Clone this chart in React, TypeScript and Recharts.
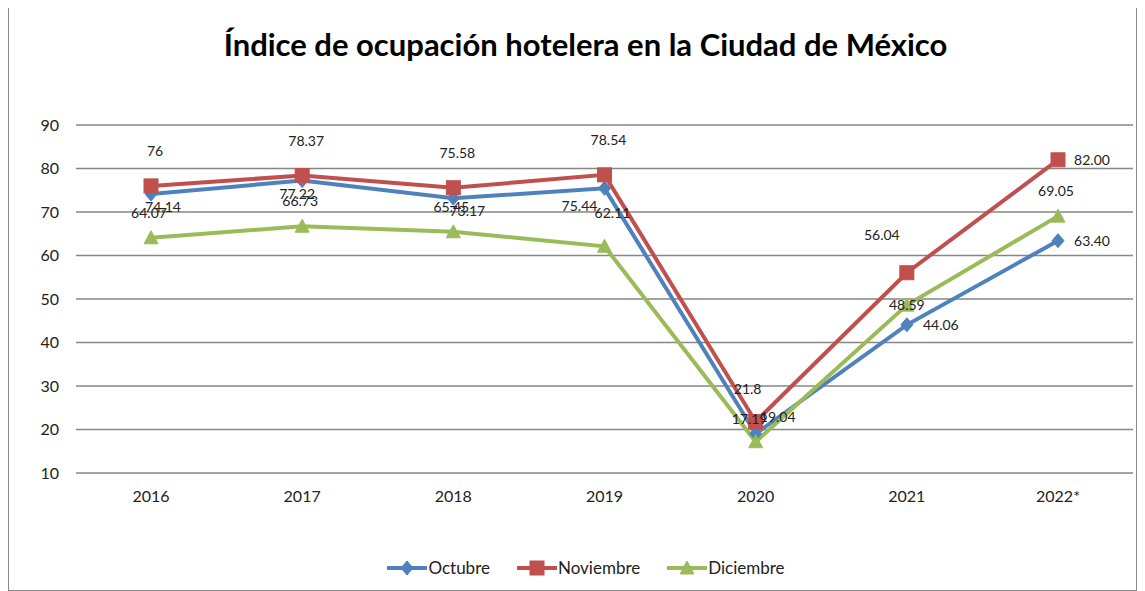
import { LineChart, Line, XAxis, YAxis, CartesianGrid } from 'recharts';

const years = ['2016', '2017', '2018', '2019', '2020', '2021', '2022*'];
const octubre = [74.14, 77.22, 73.17, 75.44, 19.04, 44.06, 63.4];
const noviembre = [76, 78.37, 75.58, 78.54, 21.8, 56.04, 82.0];
const diciembre = [64.07, 66.73, 65.45, 62.11, 17.19, 48.59, 69.05];
const octubreLabels = ['74.14', '77.22', '73.17', '75.44', '19.04', '44.06', '63.40'];
const noviembreLabels = ['76', '78.37', '75.58', '78.54', '21.8', '56.04', '82.00'];
const diciembreLabels = ['64.07', '66.73', '65.45', '62.11', '17.19', '48.59', '69.05'];
const yTicks = [10, 20, 30, 40, 50, 60, 70, 80, 90];

const data = years.map((year, i) => ({
  year,
  Octubre: octubre[i],
  Noviembre: noviembre[i],
  Diciembre: diciembre[i],
}));

const BLUE = '#4F81BD';
const RED = '#C0504D';
const GREEN = '#9BBB59';
const FONT = 'Lato, "Liberation Sans", sans-serif';

function Marker({ cx, cy, shape, color }: any) {
  if (cx == null || cy == null) return null;
  if (shape === 'diamond') {
    return <path d={`M${cx},${cy - 7} L${cx + 6},${cy} L${cx},${cy + 7} L${cx - 6},${cy} Z`} fill={color} stroke={color} />;
  }
  if (shape === 'square') {
    return <rect x={cx - 7} y={cy - 7} width={14} height={14} fill={color} stroke={color} />;
  }
  return <path d={`M${cx},${cy - 7} L${cx + 7},${cy + 6} L${cx - 7},${cy + 6} Z`} fill={color} stroke={color} />;
}

// label offsets roughly following where Excel put them
function makeLabel(texts: string[], place: (i: number) => [number, number]) {
  return (props: any) => {
    const { x, y, index } = props;
    const [dx, dy] = place(index);
    return (
      <text key={`l${index}`} x={x + dx} y={y + dy} textAnchor="middle" fontSize={14} fontFamily={FONT} fill="#222">
        {texts[index]}
      </text>
    );
  };
}

const octLabel = makeLabel(octubreLabels, (i) => {
  if (i === 5 || i === 6) return [34, 5];
  if (i === 3) return [-25, 23];
  if (i === 4) return [22, -12];
  if (i === 2) return [14, 18];
  if (i === 1) return [-5, 18];
  return [12, 18];
});
const novLabel = makeLabel(noviembreLabels, (i) => {
  if (i === 6) return [34, 5];
  if (i === 5) return [-25, -33];
  if (i === 4) return [-8, -28];
  return [4, -30];
});
const dicLabel = makeLabel(diciembreLabels, (i) => {
  if (i === 5) return [0, 5];
  if (i === 4) return [-6, -18];
  if (i === 3) return [8, -28];
  return [-2, -20];
});

function LegendBox() {
  const items = [
    { name: 'Octubre', color: BLUE, shape: 'diamond' },
    { name: 'Noviembre', color: RED, shape: 'square' },
    { name: 'Diciembre', color: GREEN, shape: 'triangle' },
  ];
  return (
    <div
      style={{
        position: 'absolute',
        top: 550,
        left: 26,
        width: 1101,
        display: 'flex',
        justifyContent: 'center',
        gap: 26,
        fontFamily: FONT,
        fontSize: 17,
        color: '#222',
      }}
    >
      {items.map((it) => (
        <div key={it.name} style={{ display: 'flex', alignItems: 'center' }}>
          <svg width={42} height={18}>
            <line x1={1} y1={9} x2={41} y2={9} stroke={it.color} strokeWidth={4} />
            <Marker cx={21} cy={9} shape={it.shape} color={it.color} />
          </svg>
          <span>{it.name}</span>
        </div>
      ))}
    </div>
  );
}

export default function App() {
  return (
    <div style={{ position: 'relative', width: 1129, height: 585, border: '1px solid #888', boxSizing: 'border-box', marginTop: -2, background: '#fff' }}>
      <div
        style={{
          position: 'absolute',
          top: 18,
          left: 26,
          width: 1101,
          textAlign: 'center',
          fontFamily: FONT,
          fontWeight: 700,
          fontSize: 31,
          color: '#000',
        }}
      >
        Índice de ocupación hotelera en la Ciudad de México
      </div>
      <LineChart width={1127} height={583} data={data} margin={{ top: 118, right: 3, left: 0, bottom: 87 }}>
        <CartesianGrid vertical={false} stroke="#868686" strokeWidth={1.5} />
        <XAxis
          dataKey="year"
          axisLine={false}
          tickLine={false}
          height={30}
          tickMargin={12}
          padding={{ left: 75, right: 75 }}
          tick={{ fontSize: 16, fontFamily: FONT, fill: '#222' }}
        />
        <YAxis
          domain={[10, 90]}
          ticks={yTicks}
          axisLine={false}
          tickLine={false}
          width={67}
          tickMargin={11}
          tick={{ fontSize: 16, fontFamily: FONT, fill: '#222' }}
        />
        <Line
          dataKey="Octubre"
          stroke={BLUE}
          strokeWidth={4}
          isAnimationActive={false}
          dot={(p: any) => <Marker key={`o${p.index}`} {...p} shape="diamond" color={BLUE} />}
          activeDot={false}
          label={octLabel}
        />
        <Line
          dataKey="Noviembre"
          stroke={RED}
          strokeWidth={4}
          isAnimationActive={false}
          dot={(p: any) => <Marker key={`n${p.index}`} {...p} shape="square" color={RED} />}
          activeDot={false}
          label={novLabel}
        />
        <Line
          dataKey="Diciembre"
          stroke={GREEN}
          strokeWidth={4}
          isAnimationActive={false}
          dot={(p: any) => <Marker key={`d${p.index}`} {...p} shape="triangle" color={GREEN} />}
          activeDot={false}
          label={dicLabel}
        />
      </LineChart>
      <LegendBox />
    </div>
  );
}
